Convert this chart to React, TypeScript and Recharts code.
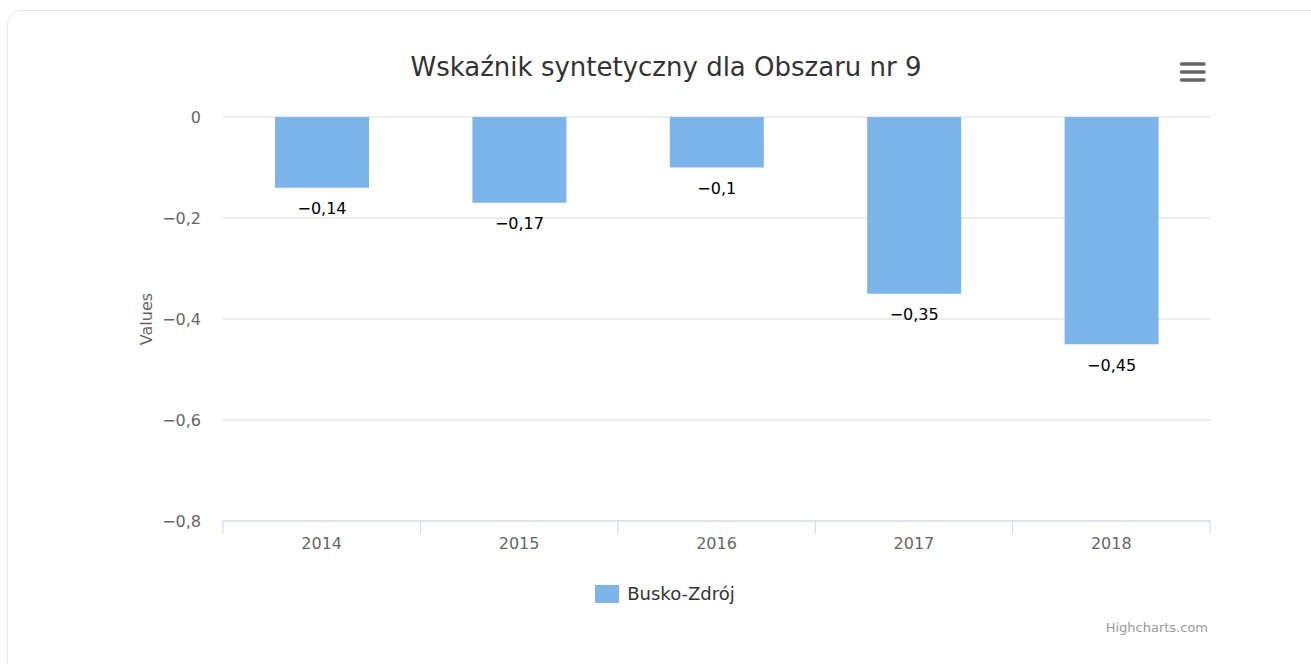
import { BarChart, Bar, XAxis, YAxis, CartesianGrid, LabelList, Label } from "recharts";

const TITLE = "Wskaźnik syntetyczny dla Obszaru nr 9";
const SERIES_NAME = "Busko-Zdrój";
const YEARS = ["2014", "2015", "2016", "2017", "2018"];
const VALUES = [-0.14, -0.17, -0.1, -0.35, -0.45];
const Y_TICKS = [0, -0.2, -0.4, -0.6, -0.8];

const data = YEARS.map((year, i) => ({ year, value: VALUES[i] }));

const FONT = '"DejaVu Sans", Verdana, sans-serif';
const BAR_COLOR = "#7cb5ec";

const fmt = (v: number) => (v < 0 ? "\u2212" : "") + String(Math.abs(v)).replace(".", ",");

function XTick(props: any) {
  const { x, y, payload, index, visibleTicksCount } = props;
  const half = payload && payload.offset ? payload.offset : 98.7;
  const last = index === visibleTicksCount - 1;
  return (
    <g>
      <line x1={x - half} x2={x - half} y1={y} y2={y + 13} stroke="#ccd6eb" />
      {last && <line x1={x + half} x2={x + half} y1={y} y2={y + 13} stroke="#ccd6eb" />}
      <text x={x} y={y + 22} textAnchor="middle" dominantBaseline="central" fill="#666" fontSize={16} fontFamily={FONT}>
        {payload.value}
      </text>
    </g>
  );
}

function BarLabel(props: any) {
  const { x, y, width, height, value } = props;
  const bottom = Math.max(y, y + height);
  return (
    <text x={x + width / 2} y={bottom + 21} textAnchor="middle" dominantBaseline="central" fill="#000" fontSize={16} fontFamily={FONT}>
      {fmt(value)}
    </text>
  );
}

function AxisTitle(props: any) {
  const vb = props.viewBox;
  const cx = vb.x - 17;
  const cy = vb.y + vb.height / 2;
  return (
    <text x={cx} y={cy} transform={`rotate(-90 ${cx} ${cy})`} textAnchor="middle" dominantBaseline="central" fill="#666" fontSize={16} fontFamily={FONT}>
      Values
    </text>
  );
}

export default function App() {
  return (
    <div style={{ position: "absolute", left: 0, top: 0, width: 1311, height: 664, overflow: "hidden", background: "#fff", fontFamily: FONT }}>
      <div style={{ position: "absolute", left: 7, top: 10, width: 1318, height: 700, border: "1px solid #e8e8e8", borderRadius: 14, boxSizing: "border-box" }} />
      <div style={{ position: "absolute", left: 0, top: 49, width: 1332, textAlign: "center", fontSize: 26, color: "#333", lineHeight: "36px" }}>
        {TITLE}
      </div>
      <svg style={{ position: "absolute", left: 1178, top: 60 }} width={30} height={24}>
        {[4, 12, 20].map((yy) => (
          <line key={yy} x1={3.5} x2={26} y1={yy} y2={yy} stroke="#666" strokeWidth={3.5} strokeLinecap="round" />
        ))}
      </svg>
      <div style={{ position: "absolute", left: 0, top: 0 }}>
        <BarChart width={1311} height={664} data={data} margin={{ top: 117, right: 101, bottom: 113, left: 163 }}>
          <CartesianGrid vertical={false} stroke="#dadada" />
          <XAxis dataKey="year" height={30} axisLine={{ stroke: "#ccd6eb" }} tickLine={false} tickSize={0} tickMargin={0} tick={<XTick />} interval={0} />
          <YAxis
            width={60}
            domain={[-0.8, 0]}
            ticks={Y_TICKS}
            tickFormatter={fmt}
            axisLine={false}
            tickLine={false}
            tickSize={0}
            tickMargin={22}
            tick={{ fill: "#666", fontSize: 16, fontFamily: FONT }}
          >
            <Label content={<AxisTitle />} />
          </YAxis>
          <Bar dataKey="value" fill={BAR_COLOR} barSize={94} isAnimationActive={false}>
            <LabelList dataKey="value" content={<BarLabel />} />
          </Bar>
        </BarChart>
      </div>
      <div style={{ position: "absolute", left: 0, top: 581, width: 1330, display: "flex", justifyContent: "center", alignItems: "center" }}>
        <span style={{ display: "inline-block", width: 24, height: 18, background: BAR_COLOR, marginRight: 8 }} />
        <span style={{ fontSize: 18, color: "#333", lineHeight: "26px" }}>{SERIES_NAME}</span>
      </div>
      <div style={{ position: "absolute", right: 103, top: 620, fontSize: 13, color: "#999" }}>Highcharts.com</div>
    </div>
  );
}
